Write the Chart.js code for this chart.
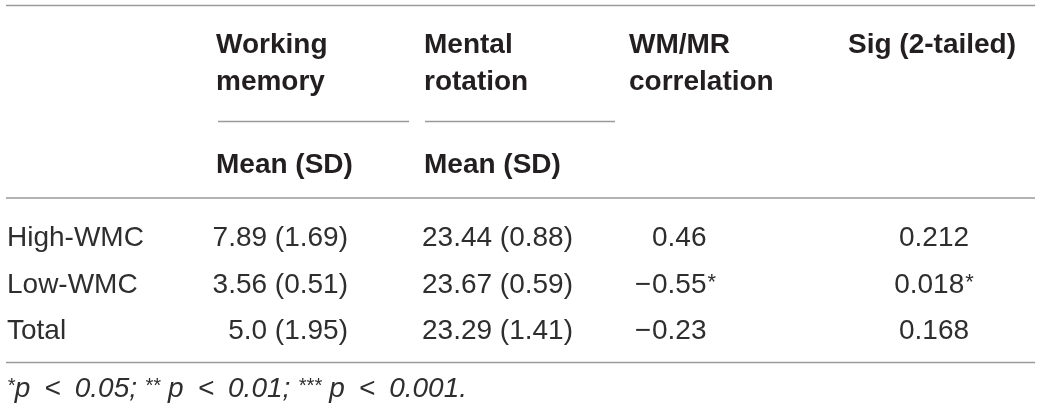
<!DOCTYPE html>
<html>
<head>
<meta charset="utf-8">
<script src="https://cdn.jsdelivr.net/npm/chart.js@4"></script>
<style>
  html, body { margin: 0; padding: 0; background: #fff; }
  #wrap { width: 1040px; height: 412px; }
</style>
</head>
<body>
<div id="wrap"><canvas id="table" width="1040" height="412"></canvas></div>
<script>
// table values
const groups = ['High-WMC', 'Low-WMC', 'Total'];
const wmMean = [7.89, 3.56, 5.0];
const wmSD = [1.69, 0.51, 1.95];
const wmDigits = [2, 2, 1];
const mrMean = [23.44, 23.67, 23.29];
const mrSD = [0.88, 0.59, 1.41];
const corr = [0.46, -0.55, -0.23];
const corrStar = ['', '*', ''];
const sig = [0.212, 0.018, 0.168];
const sigStar = ['', '*', ''];
const headers = [['Working', 'memory'], ['Mental', 'rotation'], ['WM/MR', 'correlation'], ['Sig (2-tailed)']];
const subHeaders = ['Mean (SD)', 'Mean (SD)'];
const footStars = ['*', '**', '***'];
const footText = ['p\u2002<\u20020.05; ', ' p\u2002<\u20020.01; ', ' p\u2002<\u20020.001.'];

// layout (in scale units = pixels)
const colX = [7, 348, 573, 652, 934];     // anchors per column
const headX = [216, 424, 629, 848];
const headY = [53, 90];
const subY = 173;
const rowY = [246, 292.5, 339];
const footY = 397;
const rules = [
  { x: [6, 1035], y: 5.5 },
  { x: [218, 409], y: 121.5 },
  { x: [425, 615], y: 121.5 },
  { x: [6, 1035], y: 198 },
  { x: [6, 1035], y: 362.5 }
];

const FONT = '"Liberation Sans", Arial, sans-serif';
const BOLD = '#231f20';
const TEXT = '#2e2e2e';

const fmt = (v, d) => Math.abs(v).toFixed(d);

const tablePlugin = {
  id: 'tableText',
  afterDatasetsDraw(chart) {
    const { ctx } = chart;
    const x = chart.scales.x, y = chart.scales.y;
    const px = v => x.getPixelForValue(v);
    const py = v => y.getPixelForValue(v);
    ctx.save();
    ctx.textBaseline = 'alphabetic';

    // column headers
    ctx.font = 'bold 28px ' + FONT;
    ctx.fillStyle = BOLD;
    ctx.textAlign = 'left';
    headers.forEach((lines, j) => {
      lines.forEach((t, k) => ctx.fillText(t, px(headX[j]), py(headY[k])));
    });
    subHeaders.forEach((t, j) => ctx.fillText(t, px(headX[j]), py(subY)));

    // body rows
    ctx.fillStyle = TEXT;
    groups.forEach((g, i) => {
      const yy = py(rowY[i]);
      ctx.font = '28px ' + FONT;
      ctx.textAlign = 'left';
      ctx.fillText(g, px(colX[0]), yy);

      ctx.textAlign = 'right';
      ctx.fillText(wmMean[i].toFixed(wmDigits[i]) + ' (' + wmSD[i].toFixed(2) + ')', px(colX[1]), yy);
      ctx.fillText(mrMean[i].toFixed(2) + ' (' + mrSD[i].toFixed(2) + ')', px(colX[2]), yy);

      // correlation: digits aligned, minus hangs to the left
      ctx.textAlign = 'left';
      const cTxt = fmt(corr[i], 2);
      ctx.fillText(cTxt, px(colX[3]), yy);
      if (corr[i] < 0) {
        ctx.textAlign = 'right';
        ctx.fillText('\u2212', px(colX[3]) - 1, yy);
      }
      if (corrStar[i]) {
        const w = ctx.measureText(cTxt).width;
        ctx.textAlign = 'left';
        ctx.font = '22px ' + FONT;
        ctx.fillText(corrStar[i], px(colX[3]) + w + 1, yy - 4);
        ctx.font = '28px ' + FONT;
      }

      // sig: centred
      const sTxt = sig[i].toFixed(3);
      ctx.font = '28px ' + FONT;
      const sw = ctx.measureText(sTxt).width;
      ctx.font = '22px ' + FONT;
      const stw = sigStar[i] ? ctx.measureText(sigStar[i]).width + 1 : 0;
      const left = px(colX[4]) - (sw + stw) / 2;
      ctx.textAlign = 'left';
      ctx.font = '28px ' + FONT;
      ctx.fillText(sTxt, left, yy);
      if (sigStar[i]) {
        ctx.font = '22px ' + FONT;
        ctx.fillText(sigStar[i], left + sw + 1, yy - 4);
      }
    });

    // footnote
    let fx = px(colX[0]);
    const fy = py(footY);
    ctx.textAlign = 'left';
    footStars.forEach((s, k) => {
      ctx.font = 'italic 20px ' + FONT;
      ctx.fillText(s, fx, fy - 5);
      fx += ctx.measureText(s).width;
      ctx.font = 'italic 28px ' + FONT;
      ctx.fillText(footText[k], fx, fy);
      fx += ctx.measureText(footText[k]).width;
    });
    ctx.restore();
  }
};

const ruleSets = rules.map(r => ({
  type: 'line',
  data: r.x.map(v => ({ x: v, y: r.y })),
  borderColor: '#9a9a9a',
  borderWidth: 1.6,
  pointRadius: 0,
  showLine: true,
  fill: false
}));

new Chart(document.getElementById('table'), {
  type: 'scatter',
  data: { datasets: ruleSets },
  options: {
    responsive: false,
    animation: false,
    events: [],
    layout: { padding: 0 },
    plugins: { legend: { display: false }, tooltip: { enabled: false } },
    scales: {
      x: { type: 'linear', min: 0, max: 1040, display: false },
      y: { type: 'linear', min: 0, max: 412, reverse: true, display: false }
    }
  },
  plugins: [tablePlugin]
});
</script>
</body>
</html>
